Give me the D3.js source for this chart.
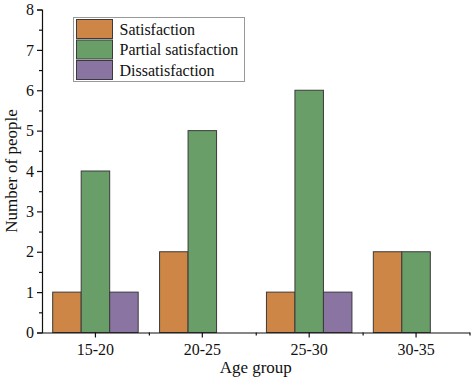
<!DOCTYPE html>
<meta charset="utf-8">
<script src="https://cdn.jsdelivr.net/npm/d3@7"></script>
<style>
 body { margin: 0; background: #fff; }
 text { font-family: "Liberation Serif", "Times New Roman", serif; fill: #111; }
</style>
<div id="container"></div>
<script>
 var ageGroups = ["15-20", "20-25", "25-30", "30-35"];
 var seriesNames = ["Satisfaction", "Partial satisfaction", "Dissatisfaction"];
 var satisfaction = [1, 2, 1, 2];
 var partial = [4, 5, 6, 2];
 var dissatisfaction = [1, 0, 1, 0];
 var yTicks = [0, 1, 2, 3, 4, 5, 6, 7, 8];
 var colors = ["#cd8645", "#6a9e68", "#8a74a1"];

 var width = 474, height = 379;
 var margin = {top: 9.5, right: 4.5, bottom: 46.5, left: 42};

 var series = [satisfaction, partial, dissatisfaction];
 var rows = ageGroups.map((g, i) => ({group: g, values: series.map(s => s[i])}));

 var svg = d3.select("#container").append("svg")
     .attr("width", width)
     .attr("height", height);

 var x = d3.scaleBand()
     .domain(ageGroups)
     .range([margin.left, width - margin.right]);

 var xInner = d3.scaleBand()
     .domain(seriesNames)
     .range([0, x.bandwidth() * 0.8]);

 var y = d3.scaleLinear()
     .domain([0, 8])
     .range([height - margin.bottom, margin.top]);

 // bars
 var groups = svg.append("g").selectAll("g")
     .data(rows)
     .enter().append("g")
     .attr("transform", d => `translate(${x(d.group) + x.bandwidth() * 0.1},0)`);

 groups.selectAll("rect")
     .data(d => d.values.map((v, k) => ({name: seriesNames[k], value: v, k: k})))
     .enter().filter(d => d.value > 0).append("rect")
     .attr("x", d => xInner(d.name))
     .attr("y", d => y(d.value))
     .attr("width", xInner.bandwidth())
     .attr("height", d => y(0) - y(d.value))
     .attr("fill", d => colors[d.k])
     .attr("stroke", "#3a3a3a")
     .attr("stroke-width", 1);

 // y axis
 var yAxis = svg.append("g")
     .attr("transform", `translate(${margin.left},0)`)
     .call(d3.axisLeft(y).tickValues(yTicks).tickSize(5).tickPadding(3));
 svg.append("g")
     .attr("transform", `translate(${margin.left},0)`)
     .call(d3.axisLeft(y).tickValues(d3.range(0.5, 8, 1)).tickSize(3).tickFormat(""))
     .select(".domain").remove();

 // x axis
 var xAxis = svg.append("g")
     .attr("transform", `translate(0,${y(0)})`)
     .call(d3.axisBottom(x).tickSize(5).tickPadding(6).tickSizeOuter(0));
 svg.append("g")
     .attr("transform", `translate(0,${y(0)})`)
     .call(d3.axisBottom(d3.scaleLinear().domain([0, 4]).range(x.range()))
        .tickValues([1, 2, 3, 4]).tickSize(3).tickFormat(""))
     .select(".domain").remove();

 svg.selectAll(".tick text")
     .style("font-family", "Liberation Serif, serif")
     .style("font-size", "16px")
     .attr("fill", "#111");
 svg.selectAll(".domain, .tick line").attr("stroke", "#111").attr("stroke-width", 1.2);

 // axis titles
 svg.append("text")
     .attr("x", (margin.left + width - margin.right) / 2)
     .attr("y", 373)
     .attr("text-anchor", "middle")
     .style("font-size", "17px")
     .text("Age group");

 svg.append("text")
     .attr("transform", `translate(17,${(y(0) + y(8)) / 2}) rotate(-90)`)
     .attr("text-anchor", "middle")
     .style("font-size", "17px")
     .text("Number of people");

 // legend
 var legend = svg.append("g").attr("transform", "translate(73.5,17.5)");
 legend.append("rect")
     .attr("width", 171)
     .attr("height", 64)
     .attr("fill", "#fff")
     .attr("stroke", "#999")
     .attr("stroke-width", 1);

 var items = legend.selectAll("g.item")
     .data(seriesNames)
     .enter().append("g")
     .attr("class", "item")
     .attr("transform", (d, i) => `translate(3,${2 + i * 20.5})`);

 items.append("rect")
     .attr("width", 36)
     .attr("height", 19)
     .attr("fill", (d, i) => colors[i])
     .attr("stroke", "#3a3a3a");

 items.append("text")
     .attr("x", 43)
     .attr("y", 15)
     .style("font-size", "16px")
     .text(d => d);
</script>
